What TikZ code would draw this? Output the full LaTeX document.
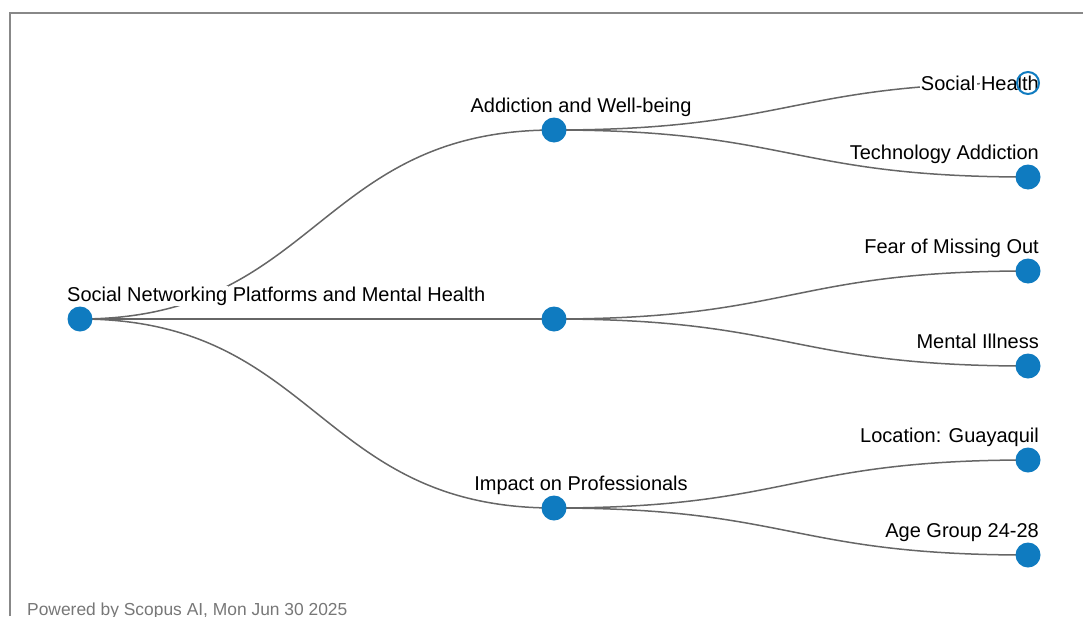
\documentclass[tikz,border=0pt]{standalone}
\usepackage{fontspec}
\setmainfont{Liberation Sans}
\definecolor{nodeblue}{HTML}{0F7BC0}
\definecolor{edgegray}{HTML}{666666}
\definecolor{framegray}{HTML}{888888}
\definecolor{footgray}{HTML}{777777}
\newcommand\hw[1]{\setbox0\hbox{#1}\rlap{\color{white}\kern-1.2pt\rule[-\dimexpr\dp0+1pt\relax]{\dimexpr\wd0+2.4pt\relax}{\dimexpr\ht0+\dp0+2pt\relax}}\box0\relax}
\begin{document}
\begin{tikzpicture}[x=1pt,y=-1pt,
  dot/.style={circle,fill=nodeblue,draw=none,minimum size=25pt,inner sep=0pt},
  hollowfill/.style={circle,fill=white,draw=none,minimum size=22pt,inner sep=0pt},
  ring/.style={circle,draw=nodeblue,line width=2pt,minimum size=22pt,inner sep=0pt},
  edge/.style={draw=edgegray,line width=1.5pt},
  lbl/.style={inner sep=0pt,font=\fontsize{20}{24}\selectfont,text=black}]
\useasboundingbox (0,0) rectangle (1083,616);
\draw[framegray,line width=2pt] (10,616) -- (10,13) -- (1083,13);
% node coordinates
\coordinate (r) at (80,319);
\coordinate (m1) at (554,130);
\coordinate (m2) at (554,319);
\coordinate (m3) at (554,508);
\coordinate (l1) at (1028,83);
\coordinate (l2) at (1028,177);
\coordinate (l3) at (1028,271);
\coordinate (l4) at (1028,366);
\coordinate (l5) at (1028,460);
\coordinate (l6) at (1028,555);
% edges
\draw[edge] (r) .. controls (317,319) and (317,130) .. (m1);
\draw[edge] (r) -- (m2);
\draw[edge] (r) .. controls (317,319) and (317,508) .. (m3);
\draw[edge] (m1) .. controls (791,130) and (791,83) .. (l1);
\draw[edge] (m1) .. controls (791,130) and (791,177) .. (l2);
\draw[edge] (m2) .. controls (791,319) and (791,271) .. (l3);
\draw[edge] (m2) .. controls (791,319) and (791,366) .. (l4);
\draw[edge] (m3) .. controls (791,508) and (791,460) .. (l5);
\draw[edge] (m3) .. controls (791,508) and (791,555) .. (l6);
% nodes
\node[dot] (nr) at (r) {};
\node[dot] (nm1) at (m1) {};
\node[dot] (nm2) at (m2) {};
\node[dot] (nm3) at (m3) {};
\node[hollowfill] (nl1) at (l1) {};
\node[dot] (nl2) at (l2) {};
\node[dot] (nl3) at (l3) {};
\node[dot] (nl4) at (l4) {};
\node[dot] (nl5) at (l5) {};
\node[dot] (nl6) at (l6) {};
% labels
\node[lbl,anchor=base west] (tr) at (67,301) {\hw{Social} \hw{Networking} \hw{Platforms} \hw{and} \hw{Mental} \hw{Health}};
\node[lbl,anchor=base] (tm1) at (581,112) {Addiction and Well-being};
\node[lbl,anchor=base] (tm3) at (581,490) {Impact on Professionals};
\node[lbl,anchor=base east] (tl1) at (1039,90) {\hw{Social} \hw{Health}};
\node[ring] (nl1ring) at (l1) {};
\node[lbl,anchor=base east] (tl2) at (1039,159) {Technology Addiction};
\node[lbl,anchor=base east] (tl3) at (1039,253) {Fear of Missing Out};
\node[lbl,anchor=base east] (tl4) at (1039,348) {Mental Illness};
\node[lbl,anchor=base east] (tl5) at (1039,442) {Location: Guayaquil};
\node[lbl,anchor=base east] (tl6) at (1039,537) {Age Group 24-28};
\node[inner sep=0pt,anchor=base west,text=footgray,font=\fontsize{17.4}{20}\selectfont] (foot) at (27,615) {Powered by Scopus AI, Mon Jun 30 2025};
\end{tikzpicture}
\end{document}
